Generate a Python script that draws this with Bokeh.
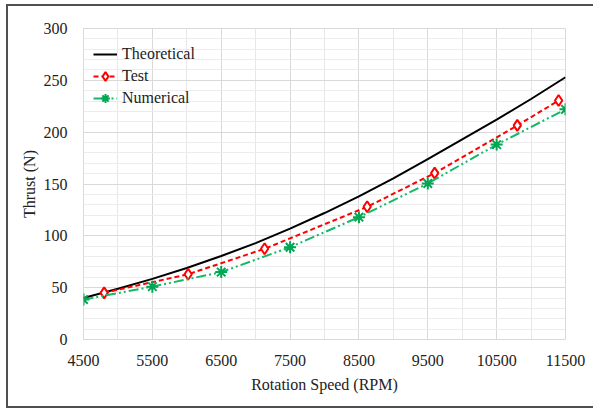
from bokeh.plotting import figure
from bokeh.models import FixedTicker, Legend, LegendItem
from bokeh.embed import file_html
from bokeh.resources import INLINE

# Theoretical curve
theo_rpm = [4500, 5000, 5500, 6000, 6500, 7000, 7500, 8000, 8500, 9000, 9500, 10000, 10500, 11000, 11500]
theo_thrust = [40, 49, 58.5, 69, 80.5, 93, 107, 122, 138, 155.5, 174, 193, 212, 232, 253]

# Test data
test_rpm = [4800, 6020, 7130, 8620, 9600, 10800, 11400]
test_thrust = [45, 63, 87.5, 128, 160.5, 206.5, 230.5]

# Numerical data
num_rpm = [4500, 5500, 6500, 7500, 8500, 9500, 10500, 11500]
num_thrust = [38.5, 51, 65, 89, 118, 150.5, 188, 222]

x_ticks = [4500, 5500, 6500, 7500, 8500, 9500, 10500, 11500]
y_ticks = [0, 50, 100, 150, 200, 250, 300]

FONT = "Liberation Serif"

p = figure(width=587, height=404, output_backend="svg", toolbar_location=None,
           x_range=(4500, 11500), y_range=(0, 300),
           min_border_left=75, min_border_right=30, min_border_top=22, min_border_bottom=71)
p.styles = {"border-left": "2px solid #505050", "border-top": "2px solid #505050",
            "border-bottom": "2px solid #505050", "margin-left": "6px", "margin-top": "4px"}

p.xaxis.ticker = FixedTicker(ticks=x_ticks, minor_ticks=[5000, 6000, 7000, 8000, 9000, 10000, 11000])
p.yaxis.ticker = FixedTicker(ticks=y_ticks, minor_ticks=list(range(0, 301, 10)))

for ax in (p.xaxis, p.yaxis):
    ax.axis_line_color = None
    ax.major_tick_line_color = None
    ax.minor_tick_line_color = None
    ax.major_label_text_font = FONT
    ax.major_label_text_font_size = "16px"
    ax.major_label_text_color = "#222222"
    ax.axis_label_text_font = FONT
    ax.axis_label_text_font_size = "16px"
    ax.axis_label_text_font_style = "normal"
    ax.axis_label_text_color = "#222222"

p.xaxis.axis_label = "Rotation Speed (RPM)"
p.yaxis.axis_label = "Thrust (N)"
p.xaxis.major_label_standoff = 9
p.xaxis.axis_label_standoff = 7
p.yaxis.major_label_standoff = 10
p.yaxis.axis_label_standoff = 3

p.xgrid.grid_line_color = "#d9d9d9"
p.ygrid.grid_line_color = "#d9d9d9"
p.xgrid.minor_grid_line_color = "#e8e8e8"
p.ygrid.minor_grid_line_color = "#ececec"
p.outline_line_color = "#d9d9d9"

r_theo = p.line(theo_rpm, theo_thrust, line_color="black", line_width=2)

r_test = p.line(test_rpm, test_thrust, line_color="#ff0000", line_width=2, line_dash="5 3")
r_test_m = p.scatter(test_rpm, test_thrust, marker="diamond", size=11, fill_color="white",
                     line_color="#ff0000", line_width=2)

r_num = p.line(num_rpm, num_thrust, line_color="#14b86a", line_width=2, line_dash="10 3 2 3 2 3")
r_num_m = p.scatter(num_rpm, num_thrust, marker="asterisk", size=12, line_color="#00a651",
                    line_width=2)

legend = Legend(items=[
    LegendItem(label="Theoretical", renderers=[r_theo]),
    LegendItem(label="Test", renderers=[r_test, r_test_m]),
    LegendItem(label="Numerical", renderers=[r_num, r_num_m]),
], location=(10, 230))
legend.background_fill_alpha = 0
legend.border_line_color = None
legend.label_text_font = FONT
legend.label_text_font_size = "16px"
legend.label_text_color = "#222222"
legend.glyph_width = 24
legend.glyph_height = 22
legend.label_height = 22
legend.spacing = 0
legend.label_standoff = 5
legend.margin = 0
legend.padding = 0
p.add_layout(legend)

open("out.html", "w").write(file_html(p, INLINE))
